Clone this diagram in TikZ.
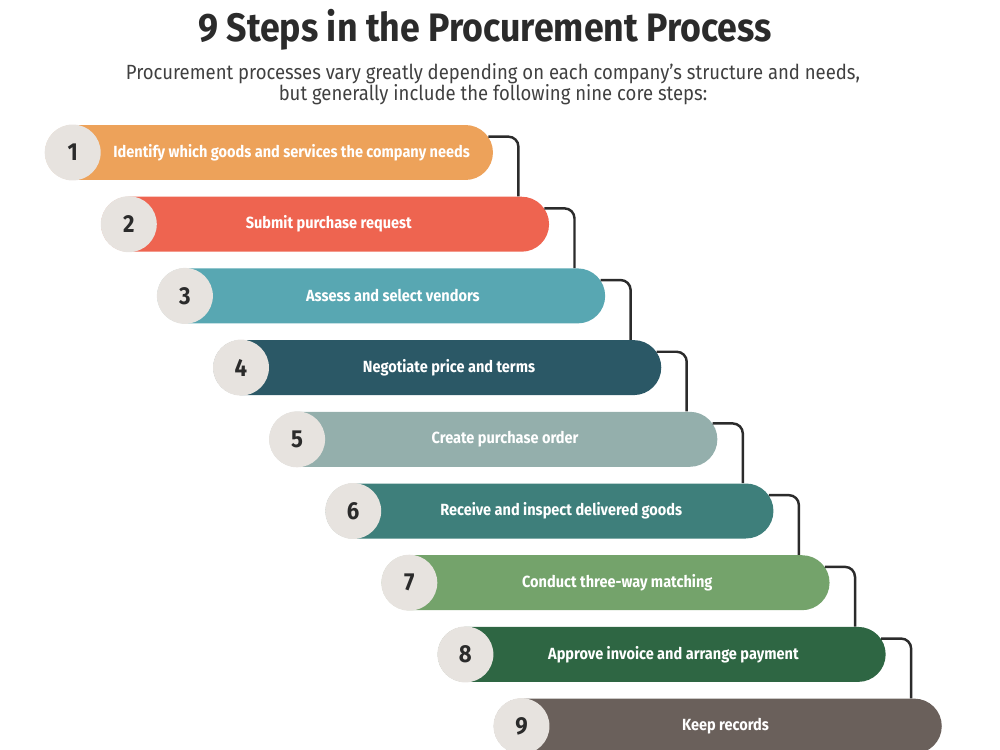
\documentclass[tikz,border=0pt]{standalone}
\usepackage{fontspec}
\setmainfont[FakeStretch=0.9]{Fira Sans}
\usetikzlibrary{calc}

\definecolor{stepA}{HTML}{EDA25A}
\definecolor{stepB}{HTML}{EE6450}
\definecolor{stepC}{HTML}{58A7B2}
\definecolor{stepD}{HTML}{2B5866}
\definecolor{stepE}{HTML}{94AFAC}
\definecolor{stepF}{HTML}{3E7F7B}
\definecolor{stepG}{HTML}{74A36B}
\definecolor{stepH}{HTML}{2E6643}
\definecolor{stepI}{HTML}{6A605B}
\definecolor{numbg}{HTML}{E7E3DF}
\definecolor{inkdark}{HTML}{2B2B2B}

\tikzset{
  bar/.style={rectangle, rounded corners=0.55cm, minimum width=8.96cm, minimum height=1.1cm, inner sep=0pt},
  numdot/.style={circle, fill=numbg, minimum size=1.12cm, inner sep=0pt, text=inkdark, font=\fontsize{14}{16}\selectfont\bfseries},
  steptext/.style={text=white, font=\fontsize{9.2}{11}\selectfont\bfseries},
  link/.style={draw=inkdark, line width=1.4pt, rounded corners=0.2cm}
}

\begin{document}
\begin{tikzpicture}[x=0.02cm, y=-0.02cm]
\useasboundingbox (0,0) rectangle (1000,750);
\clip (0,0) rectangle (1000,750);

% Title
\node [text=inkdark] (title) at (485,30) {\fontsize{22.6}{26}\selectfont\bfseries 9 Steps in the Procurement Process};
\node [align=center, text=inkdark!90] (subtitle) at (493,84) {\fontsize{11.7}{13.2}\selectfont Procurement processes vary greatly depending on each company’s structure and needs,\\ \fontsize{11.7}{13.2}\selectfont but generally include the following nine core steps:};

% Step 1
\node [bar, fill=stepA] (b1) at (269,152.5) {};
\node [numdot] (n1) at ($(b1.west)+(28,0)$) {1};
\node [steptext] (t1) at ($(b1.west)+(247,0)$) {Identify which goods and services the company needs};

% Step 2
\node [bar, fill=stepB] (b2) at (325.1,224.2) {};
\node [numdot] (n2) at ($(b2.west)+(28,0)$) {2};
\node [steptext] (t2) at ($(b2.west)+(228,0)$) {Submit purchase request};

% Step 3
\node [bar, fill=stepC] (b3) at (381.2,295.9) {};
\node [numdot] (n3) at ($(b3.west)+(28,0)$) {3};
\node [steptext] (t3) at ($(b3.west)+(236,0)$) {Assess and select vendors};

% Step 4
\node [bar, fill=stepD] (b4) at (437.3,367.6) {};
\node [numdot] (n4) at ($(b4.west)+(28,0)$) {4};
\node [steptext] (t4) at ($(b4.west)+(236,0)$) {Negotiate price and terms};

% Step 5
\node [bar, fill=stepE] (b5) at (493.4,439.3) {};
\node [numdot] (n5) at ($(b5.west)+(28,0)$) {5};
\node [steptext] (t5) at ($(b5.west)+(236,0)$) {Create purchase order};

% Step 6
\node [bar, fill=stepF] (b6) at (549.5,511.0) {};
\node [numdot] (n6) at ($(b6.west)+(28,0)$) {6};
\node [steptext] (t6) at ($(b6.west)+(236,0)$) {Receive and inspect delivered goods};

% Step 7
\node [bar, fill=stepG] (b7) at (605.6,582.7) {};
\node [numdot] (n7) at ($(b7.west)+(28,0)$) {7};
\node [steptext] (t7) at ($(b7.west)+(236,0)$) {Conduct three-way matching};

% Step 8
\node [bar, fill=stepH] (b8) at (661.7,654.4) {};
\node [numdot] (n8) at ($(b8.west)+(28,0)$) {8};
\node [steptext] (t8) at ($(b8.west)+(236,0)$) {Approve invoice and arrange payment};

% Step 9
\node [bar, fill=stepI] (b9) at (717.8,726.1) {};
\node [numdot] (n9) at ($(b9.west)+(28,0)$) {9};
\node [steptext] (t9) at ($(b9.west)+(232,0)$) {Keep records};

% Connectors
\draw [link] ($(b1.north east)+(-5,12)$) -| ($(b2.north east)+(-31,0)$);
\draw [link] ($(b2.north east)+(-5,12)$) -| ($(b3.north east)+(-31,0)$);
\draw [link] ($(b3.north east)+(-5,12)$) -| ($(b4.north east)+(-31,0)$);
\draw [link] ($(b4.north east)+(-5,12)$) -| ($(b5.north east)+(-31,0)$);
\draw [link] ($(b5.north east)+(-5,12)$) -| ($(b6.north east)+(-31,0)$);
\draw [link] ($(b6.north east)+(-5,12)$) -| ($(b7.north east)+(-31,0)$);
\draw [link] ($(b7.north east)+(-5,12)$) -| ($(b8.north east)+(-31,0)$);
\draw [link] ($(b8.north east)+(-5,12)$) -| ($(b9.north east)+(-31,0)$);
\end{tikzpicture}
\end{document}
